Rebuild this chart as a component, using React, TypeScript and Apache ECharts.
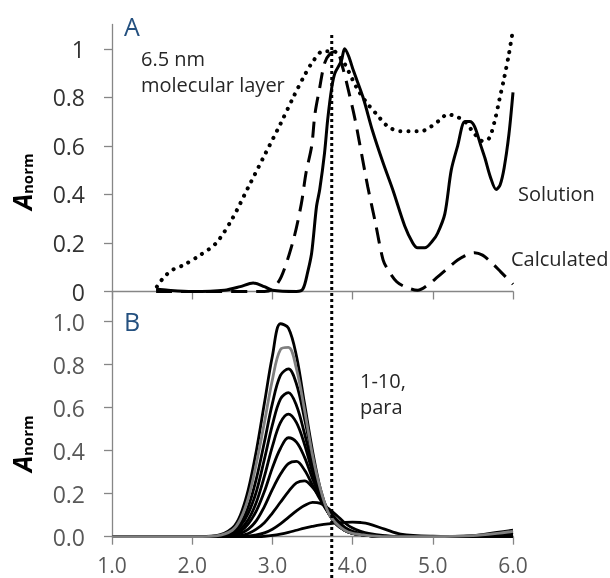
import React, { useEffect, useRef } from 'react';
import * as echarts from 'echarts';

// ---------- Panel A data ----------
const molecularX = [1.56, 1.65, 1.76, 1.9, 2.1, 2.3, 2.5, 2.7, 2.9, 3.1, 3.26, 3.4, 3.51, 3.63, 3.76, 3.88, 4.05, 4.17, 4.3, 4.44, 4.6, 4.73, 4.85, 4.98, 5.1, 5.18, 5.3, 5.4, 5.52, 5.62, 5.7, 5.77, 5.83, 5.89, 5.95, 6.0];
const molecularY = [0.02, 0.06, 0.09, 0.11, 0.15, 0.2, 0.3, 0.43, 0.56, 0.69, 0.8, 0.89, 0.95, 0.99, 0.99, 0.95, 0.84, 0.78, 0.73, 0.68, 0.66, 0.66, 0.66, 0.68, 0.71, 0.73, 0.72, 0.7, 0.65, 0.62, 0.63, 0.7, 0.79, 0.88, 0.98, 1.08];

const solutionX = [1.55, 1.7, 2.0, 2.4, 2.6, 2.76, 2.9, 3.0, 3.3, 3.38, 3.44, 3.49, 3.55, 3.59, 3.65, 3.69, 3.74, 3.78, 3.86, 3.9, 3.95, 4.01, 4.13, 4.25, 4.38, 4.5, 4.65, 4.75, 4.81, 4.9, 5.0, 5.06, 5.15, 5.23, 5.31, 5.4, 5.46, 5.52, 5.6, 5.65, 5.72, 5.79, 5.84, 5.89, 5.95, 6.0];
const solutionY = [0.01, 0.005, 0, 0.005, 0.02, 0.035, 0.02, 0.005, 0, 0.01, 0.08, 0.16, 0.35, 0.42, 0.57, 0.71, 0.84, 0.9, 0.95, 1.0, 0.97, 0.91, 0.8, 0.66, 0.53, 0.42, 0.27, 0.2, 0.18, 0.18, 0.21, 0.24, 0.32, 0.5, 0.6, 0.7, 0.7, 0.68, 0.6, 0.55, 0.47, 0.42, 0.44, 0.51, 0.65, 0.82];

const calculatedX = [1.55, 2.9, 3.0, 3.11, 3.26, 3.36, 3.42, 3.49, 3.53, 3.59, 3.65, 3.72, 3.8, 3.87, 3.94, 4.03, 4.11, 4.19, 4.28, 4.38, 4.44, 4.55, 4.65, 4.81, 4.95, 5.06, 5.2, 5.31, 5.42, 5.52, 5.62, 5.73, 5.85, 6.0];
const calculatedY = [0, 0, 0.01, 0.06, 0.21, 0.36, 0.49, 0.6, 0.73, 0.84, 0.94, 0.98, 0.99, 0.93, 0.84, 0.71, 0.57, 0.43, 0.29, 0.13, 0.09, 0.04, 0.02, 0.005, 0.03, 0.06, 0.1, 0.13, 0.15, 0.16, 0.15, 0.12, 0.08, 0.03];

// ---------- Panel B data ----------
const paraX = [1.0, 2.0, 2.3, 2.5, 2.6, 2.7, 2.8, 2.9, 3.0, 3.1, 3.2, 3.3, 3.4, 3.5, 3.6, 3.7, 3.8, 3.9, 4.0, 4.1, 4.2, 4.4, 4.6, 5.0, 5.5, 5.8, 6.0];
const para1 = [0, 0, 0.005, 0.04, 0.1, 0.22, 0.4, 0.62, 0.84, 0.99, 0.97, 0.84, 0.62, 0.4, 0.22, 0.11, 0.055, 0.03, 0.015, 0.01, 0.005, 0, 0, 0, 0.005, 0.02, 0.03];
const para2 = [0, 0, 0.004, 0.03, 0.08, 0.18, 0.34, 0.53, 0.73, 0.87, 0.88, 0.78, 0.59, 0.38, 0.22, 0.11, 0.06, 0.03, 0.015, 0.01, 0.005, 0, 0, 0, 0.005, 0.015, 0.025];
const para3 = [0, 0, 0.003, 0.025, 0.06, 0.14, 0.27, 0.44, 0.62, 0.75, 0.78, 0.71, 0.55, 0.37, 0.21, 0.11, 0.06, 0.03, 0.015, 0.01, 0.005, 0, 0, 0, 0.003, 0.01, 0.02];
const para4 = [0, 0, 0.002, 0.02, 0.05, 0.11, 0.21, 0.36, 0.52, 0.64, 0.67, 0.61, 0.48, 0.33, 0.2, 0.11, 0.06, 0.03, 0.015, 0.01, 0.005, 0, 0, 0, 0.003, 0.01, 0.02];
const para5 = [0, 0, 0, 0.015, 0.035, 0.08, 0.16, 0.28, 0.42, 0.53, 0.57, 0.53, 0.43, 0.3, 0.19, 0.11, 0.06, 0.03, 0.015, 0.01, 0.005, 0, 0, 0, 0, 0.005, 0.01];
const para6 = [0, 0, 0, 0.01, 0.025, 0.06, 0.12, 0.21, 0.32, 0.41, 0.46, 0.44, 0.37, 0.27, 0.18, 0.11, 0.065, 0.035, 0.02, 0.01, 0.005, 0, 0, 0, 0, 0.005, 0.01];
const para7 = [0, 0, 0, 0.005, 0.015, 0.035, 0.075, 0.14, 0.22, 0.29, 0.34, 0.35, 0.31, 0.24, 0.17, 0.11, 0.07, 0.04, 0.02, 0.012, 0.006, 0, 0, 0, 0, 0, 0.005];
const para8 = [0, 0, 0, 0, 0.005, 0.015, 0.035, 0.065, 0.11, 0.16, 0.21, 0.25, 0.26, 0.23, 0.18, 0.125, 0.08, 0.045, 0.025, 0.015, 0.008, 0.002, 0, 0, 0, 0, 0.005];
const para9 = [0, 0, 0, 0, 0, 0.003, 0.008, 0.018, 0.035, 0.06, 0.09, 0.12, 0.145, 0.16, 0.155, 0.13, 0.1, 0.065, 0.04, 0.025, 0.015, 0.005, 0, 0, 0, 0, 0];
const para10 = [0, 0, 0, 0, 0, 0, 0, 0.002, 0.006, 0.012, 0.02, 0.03, 0.04, 0.048, 0.055, 0.06, 0.064, 0.067, 0.068, 0.066, 0.06, 0.035, 0.012, 0.002, 0, 0.01, 0.015];
const paraSeries = [para1, para2, para3, para4, para5, para6, para7, para8, para9, para10];
const paraColors = ['#000000', '#7f7f7f', '#000000', '#000000', '#000000', '#000000', '#000000', '#000000', '#000000', '#000000'];

// ---------- Axes ----------
const xTicks = [1, 2, 3, 4, 5, 6];
const yTicksA = [0, 0.2, 0.4, 0.6, 0.8, 1];
const yTicksB = [0, 0.2, 0.4, 0.6, 0.8, 1.0];
const markerX = 3.74;

const FONT = "'Open Sans', sans-serif";
const zip = (xs: number[], ys: number[]) => xs.map((x, i) => [x, ys[i]]);

export default function App() {
  const ref = useRef<HTMLDivElement>(null);

  useEffect(() => {
    if (!ref.current) return;
    const chart = echarts.init(ref.current, undefined, { renderer: 'svg' });
    const axisColor = '#868686';

    const yTitle = (x: number, y: number) => ({
      type: 'group',
      x,
      y,
      rotation: Math.PI / 2,
      children: [
        { type: 'text', x: 0, y: -10, style: { text: 'A', font: `italic bold 26px ${FONT}`, fill: '#000', textAlign: 'left', textVerticalAlign: 'middle' } },
        { type: 'text', x: 16, y: -5, style: { text: 'norm', font: `bold 15px ${FONT}`, fill: '#000', textAlign: 'left', textVerticalAlign: 'middle' } },
      ],
    });
    const note = (text: string, x: number, y: number, size = 20, fill = '#262626') => ({
      type: 'text', x, y,
      style: { text, font: `${size}px ${FONT}`, fill, textAlign: 'left', textVerticalAlign: 'middle' },
    });

    const option: any = {
      animation: false,
      textStyle: { fontFamily: FONT },
      grid: [
        { left: 112, right: 97, top: 24.5, height: 267 },
        { left: 112, right: 97, top: 291.5, height: 245.2 },
        { left: 112, right: 97, top: 33, bottom: 0 },
      ],
      xAxis: [
        {
          gridIndex: 0, type: 'value', min: 1, max: 6, interval: 1,
          axisLine: { show: true, onZero: false, lineStyle: { color: axisColor, width: 1.3 } },
          axisTick: { show: true, length: 8, lineStyle: { color: axisColor, width: 1.3 } },
          axisLabel: { show: false },
          splitLine: { show: false },
        },
        {
          gridIndex: 1, type: 'value', min: 1, max: 6, interval: 1,
          axisLine: { show: true, onZero: false, lineStyle: { color: axisColor, width: 1.3 } },
          axisTick: { show: true, length: 8, lineStyle: { color: axisColor, width: 1.3 } },
          axisLabel: {
            show: true, customValues: xTicks, margin: 18, fontSize: 21, color: '#595959', fontFamily: FONT,
            formatter: (v: number) => v.toFixed(1),
          },
          splitLine: { show: false },
        },
        { gridIndex: 2, type: 'value', min: 1, max: 6, show: false },
      ],
      yAxis: [
        {
          gridIndex: 0, type: 'value', min: 0, max: 1.1, interval: 0.2,
          axisLine: { show: true, lineStyle: { color: axisColor, width: 1.3 } },
          axisTick: { show: true, length: 8, customValues: yTicksA, lineStyle: { color: axisColor, width: 1.3 } },
          axisLabel: {
            show: true, customValues: yTicksA, margin: 27, fontSize: 23, color: '#333333', fontFamily: FONT,
            formatter: (v: number) => String(v),
          },
          splitLine: { show: false },
        },
        {
          gridIndex: 1, type: 'value', min: 0, max: 1.14, interval: 0.2,
          axisLine: { show: true, lineStyle: { color: axisColor, width: 1.3 } },
          axisTick: { show: true, length: 8, customValues: yTicksB, lineStyle: { color: axisColor, width: 1.3 } },
          axisLabel: {
            show: true, customValues: yTicksB, margin: 27, fontSize: 23, color: '#595959', fontFamily: FONT,
            formatter: (v: number) => v.toFixed(1),
          },
          splitLine: { show: false },
        },
        { gridIndex: 2, type: 'value', min: 0, max: 1, show: false },
      ],
      series: [
        {
          name: '6.5 nm molecular layer', type: 'line', xAxisIndex: 0, yAxisIndex: 0,
          data: zip(molecularX, molecularY), showSymbol: false, smooth: 0.3,
          lineStyle: { color: '#000', width: 4, type: [0.1, 8], cap: 'round' },
        },
        {
          name: 'Calculated', type: 'line', xAxisIndex: 0, yAxisIndex: 0,
          data: zip(calculatedX, calculatedY), showSymbol: false, smooth: 0.3,
          lineStyle: { color: '#000', width: 3, type: [16, 9] },
        },
        {
          name: 'Solution', type: 'line', xAxisIndex: 0, yAxisIndex: 0,
          data: zip(solutionX, solutionY), showSymbol: false, smooth: 0.3,
          lineStyle: { color: '#000', width: 3 },
        },
        ...paraSeries.map((ys, i) => ({
          name: `para ${i + 1}`, type: 'line', xAxisIndex: 1, yAxisIndex: 1,
          data: zip(paraX, ys), showSymbol: false, smooth: 0.35,
          lineStyle: { color: paraColors[i], width: 2.8 },
          z: i === 1 ? 3 : 2,
        })),
        {
          name: 'marker', type: 'line', xAxisIndex: 2, yAxisIndex: 2,
          data: [[markerX, 0], [markerX, 1]], showSymbol: false, clip: false,
          lineStyle: { color: '#000', width: 3, type: [3, 3] },
          z: 5,
        },
      ],
      graphic: [
        yTitle(32, 210),
        yTitle(32, 472),
        note('A', 124, 26, 25, '#24507f'),
        note('B', 124, 321, 25, '#24507f'),
        note('6.5 nm', 141, 58),
        note('molecular layer', 141, 84.5),
        note('Solution', 518, 193),
        note('Calculated', 511, 258),
        note('1-10,', 360, 380),
        note('para', 360, 406),
      ],
    };

    chart.setOption(option);
    return () => chart.dispose();
  }, []);

  return <div ref={ref} style={{ position: 'fixed', left: 0, top: 0, width: 610, height: 578 }} />;
}
